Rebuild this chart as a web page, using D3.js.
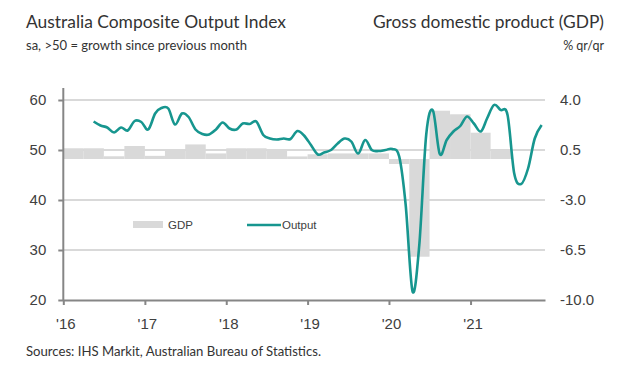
<!DOCTYPE html>
<html>
<head>
<meta charset="utf-8">
<script src="https://cdn.jsdelivr.net/npm/d3@7"></script>
<style>
  body { margin: 0; background: #fff; }
  svg text { fill: #404040; }
  .title { font-family: Lato, "Noto Sans", sans-serif; fill: #333; }
  .tick text { font-family: "Liberation Sans", Arial, sans-serif; font-size: 15px; fill: #404040; }
</style>
</head>
<body>
<div id="chart"></div>
<script>
// Australia composite output index, monthly, May 2016 .. Nov 2021
var outputStart = [2016, 4];
var outputValues = [
  55.7, 54.9, 54.5, 53.5, 54.5, 53.9, 55.8, 55.6,
  54.1, 57.3, 58.4, 58.3, 55.1, 57.3, 56.6, 54.1, 53.2, 53.1, 54.1, 55.5,
  54.3, 54.1, 55.3, 55.2, 55.7, 53.0, 52.3, 52.1, 52.3, 52.2, 53.8, 52.9,
  51.0, 49.1, 49.5, 50.0, 51.3, 52.3, 51.7, 49.3, 52.0, 50.0, 49.8, 50.0,
  50.2, 48.7, 39.0, 21.7, 31.0, 53.0, 57.9, 49.2, 52.0, 53.7, 54.8, 56.7,
  55.3, 53.7, 56.3, 59.0, 58.0, 57.0, 45.3, 43.2, 46.3, 52.3, 55.0
];

// GDP % q/q, quarterly, Q1 2016 .. Q2 2021
var gdpStart = [2016, 0];
var gdpValues = [
  0.62, 0.62, 0.06, 0.78,
  0.09, 0.57, 0.89, 0.26,
  0.62, 0.62, 0.47, 0.05,
  0.2, 0.26, 0.26, 0.26,
  -0.48, -6.97, 3.25, 3.0,
  1.71, 0.55
];
var gdpBase = -0.13;

var leftTicks = [20, 30, 40, 50, 60];
var rightTicks = [-10, -6.5, -3, 0.5, 4];

var width = 634, height = 369;
var plot = {left: 63.3, right: 545, top: 100, bottom: 300};

var svg = d3.select("#chart").append("svg")
    .attr("width", width)
    .attr("height", height);

var x = d3.scaleTime()
    .domain([new Date(2016, 0, 1), new Date(2021, 11, 1)])
    .range([plot.left, plot.right]);
var yL = d3.scaleLinear().domain([20, 60]).range([plot.bottom, plot.top]);
var yR = d3.scaleLinear().domain([-10, 4]).range([plot.bottom, plot.top]);

var output = outputValues.map(function(v, i){
    return {date: new Date(outputStart[0], outputStart[1] + i, 16), value: v};
});
var gdp = gdpValues.map(function(v, i){
    var m = gdpStart[1] + i * 3;
    return {from: new Date(gdpStart[0], m, 1), to: new Date(gdpStart[0], m + 3, 1), value: v};
});

// gridlines
svg.append("g").selectAll("line")
    .data(leftTicks.slice(1))
    .join("line")
    .attr("x1", plot.left).attr("x2", plot.right)
    .attr("y1", function(d){ return yL(d); })
    .attr("y2", function(d){ return yL(d); })
    .style("stroke", "#d9d9d9")
    .style("stroke-width", 2);

// gdp bars
svg.append("g").selectAll("rect")
    .data(gdp)
    .join("rect")
    .attr("x", function(d){ return x(d.from); })
    .attr("width", function(d){ return x(d.to) - x(d.from); })
    .attr("y", function(d){ return Math.min(yR(d.value), yR(gdpBase)); })
    .attr("height", function(d){ return Math.abs(yR(d.value) - yR(gdpBase)); })
    .style("fill", "#d9d9d9");

// axes
var ax = svg.append("g")
    .attr("transform", "translate(0," + plot.bottom + ")")
    .call(d3.axisBottom(x).ticks(d3.timeYear).tickSize(5).tickSizeOuter(0).tickPadding(13)
        .tickFormat(function(d){ return "'" + d3.timeFormat("%y")(d); }));
ax.selectAll("text").attr("dx", 2);

var ayl = svg.append("g")
    .attr("transform", "translate(" + plot.left + ",0)")
    .call(d3.axisLeft(yL).tickValues(leftTicks).tickSize(5).tickSizeOuter(0).tickPadding(12));
// left axis line runs a little above the top gridline
ayl.select(".domain").attr("d", "M0," + (plot.top - 12) + "V" + plot.bottom);

var ayr = svg.append("g")
    .attr("transform", "translate(" + plot.right + ",0)")
    .call(d3.axisRight(yR).tickValues(rightTicks).tickSize(0).tickPadding(15)
        .tickFormat(function(d){ return d.toFixed(1); }));
ayr.select(".domain").remove();

[ax, ayl].forEach(function(a){
    a.select(".domain").style("stroke", "#868686").style("stroke-width", 2);
    a.selectAll(".tick line").style("stroke", "#868686").style("stroke-width", 2);
});

// output line
svg.append("path")
    .datum(output)
    .attr("d", d3.line()
        .x(function(d){ return x(d.date); })
        .y(function(d){ return yL(d.value); })
        .curve(d3.curveCatmullRom.alpha(0)))
    .style("fill", "none")
    .style("stroke", "#17968f")
    .style("stroke-width", 2.6);

// legend
var lg = svg.append("g").style("font-family", "'Liberation Sans', Arial, sans-serif").style("font-size", "11.5px");
lg.append("rect").attr("x", 133).attr("y", 221).attr("width", 30).attr("height", 7).style("fill", "#d9d9d9");
lg.append("text").attr("x", 168).attr("y", 229).text("GDP");
lg.append("line").attr("x1", 247).attr("x2", 281).attr("y1", 225).attr("y2", 225)
    .style("stroke", "#17968f").style("stroke-width", 2.6);
lg.append("text").attr("x", 282).attr("y", 229).text("Output");

// titles
svg.append("text").attr("class", "title").attr("x", 26).attr("y", 28)
    .style("font-size", "17px").attr("textLength", 260).attr("lengthAdjust", "spacingAndGlyphs")
    .text("Australia Composite Output Index");
svg.append("text").attr("class", "title").attr("x", 26).attr("y", 50)
    .style("font-size", "12.5px").attr("textLength", 221).attr("lengthAdjust", "spacingAndGlyphs")
    .text("sa, >50 = growth since previous month");
svg.append("text").attr("class", "title").attr("x", 604).attr("y", 28)
    .attr("text-anchor", "end")
    .style("font-size", "17px").attr("textLength", 231).attr("lengthAdjust", "spacingAndGlyphs")
    .text("Gross domestic product (GDP)");
svg.append("text").attr("class", "title").attr("x", 604).attr("y", 50)
    .attr("text-anchor", "end").style("font-size", "12.5px")
    .text("% qr/qr");
svg.append("text").attr("class", "title").attr("x", 26).attr("y", 356)
    .style("font-size", "12.5px").attr("textLength", 295).attr("lengthAdjust", "spacingAndGlyphs")
    .text("Sources: IHS Markit, Australian Bureau of Statistics.");
</script>
</body>
</html>
